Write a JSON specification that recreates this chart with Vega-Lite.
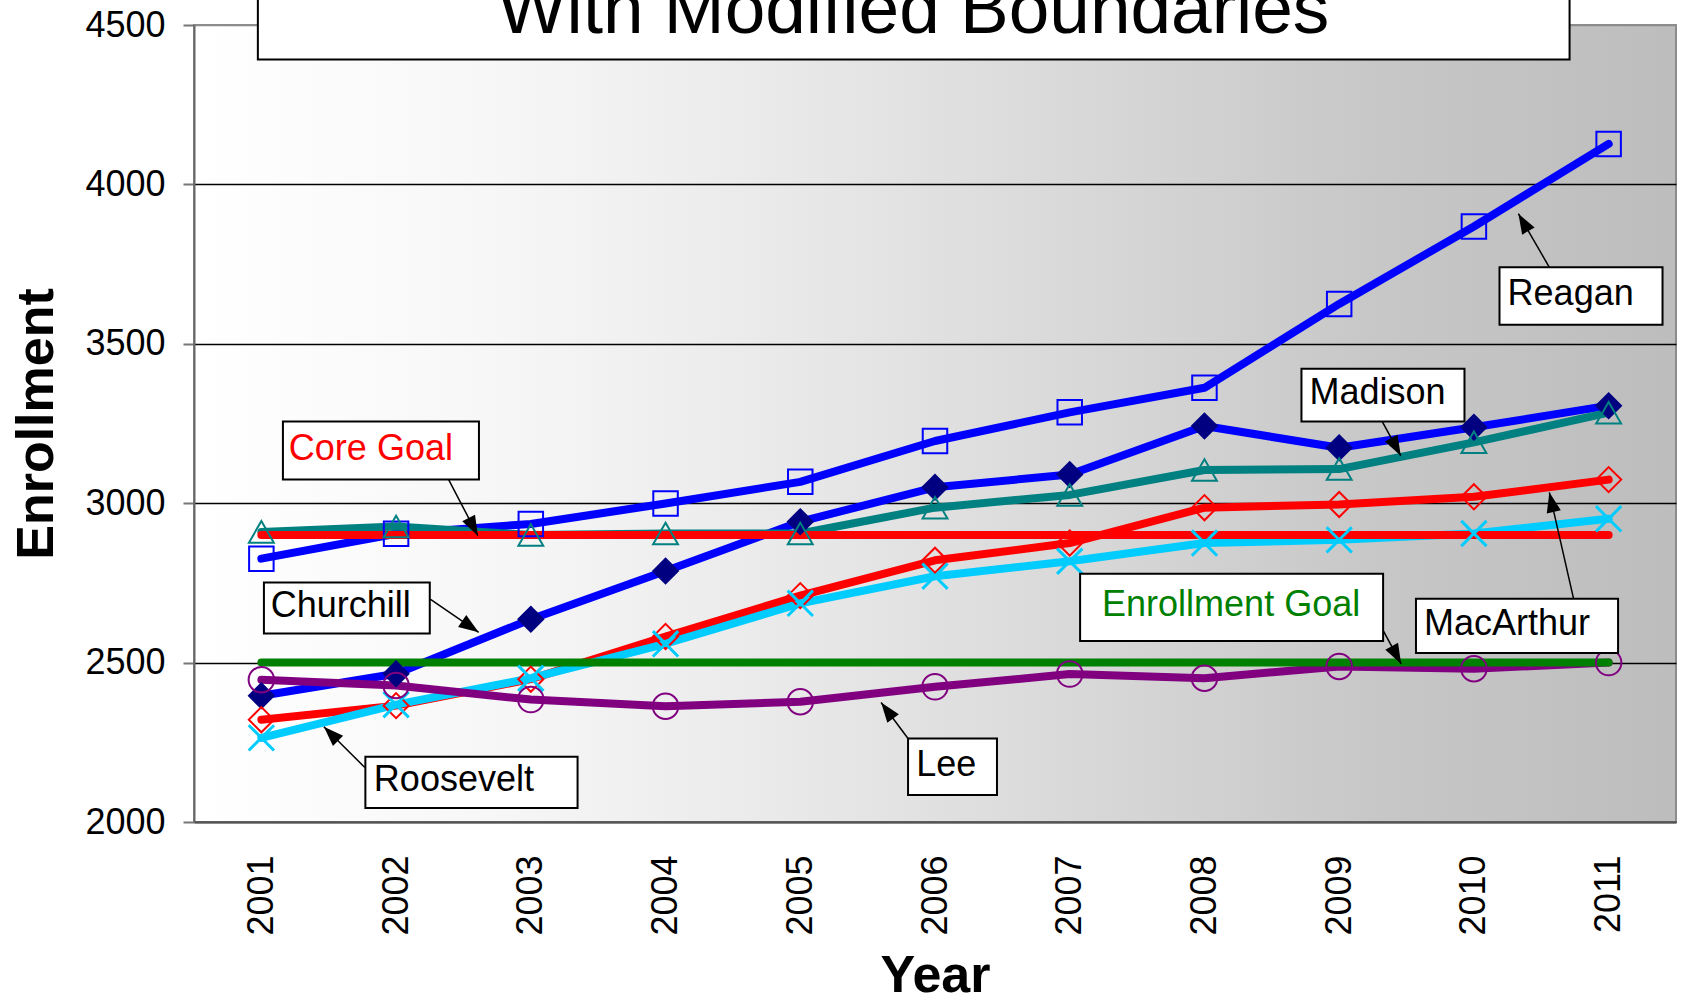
{
  "$schema": "https://vega.github.io/schema/vega-lite/v6.json",
  "width": 1482,
  "height": 797,
  "autosize": {"type": "none"},
  "padding": {"left": 194, "top": 25, "right": 5, "bottom": 182},
  "background": "white",
  "config": {
    "font": "Liberation Sans",
    "view": {
      "fill": {"gradient": "linear", "x1": 0, "y1": 0, "x2": 1, "y2": 0,
        "stops": [
          {"offset": 0, "color": "#ffffff"},
          {"offset": 0.2, "color": "#f7f7f7"},
          {"offset": 0.4, "color": "#e9e9e9"},
          {"offset": 0.6, "color": "#d8d8d8"},
          {"offset": 0.8, "color": "#c7c7c7"},
          {"offset": 1, "color": "#bdbdbd"}
        ]},
      "stroke": "#8c8c8c",
      "strokeWidth": 2
    }
  },
  "datasets": {
    "enr": [
      {"school": "Reagan", "year": 2001, "enrollment": 2826},
      {"school": "Reagan", "year": 2002, "enrollment": 2904},
      {"school": "Reagan", "year": 2003, "enrollment": 2935},
      {"school": "Reagan", "year": 2004, "enrollment": 2999},
      {"school": "Reagan", "year": 2005, "enrollment": 3067},
      {"school": "Reagan", "year": 2006, "enrollment": 3195},
      {"school": "Reagan", "year": 2007, "enrollment": 3285},
      {"school": "Reagan", "year": 2008, "enrollment": 3362},
      {"school": "Reagan", "year": 2009, "enrollment": 3625},
      {"school": "Reagan", "year": 2010, "enrollment": 3868},
      {"school": "Reagan", "year": 2011, "enrollment": 4127},
      {"school": "Churchill", "year": 2001, "enrollment": 2396},
      {"school": "Churchill", "year": 2002, "enrollment": 2465},
      {"school": "Churchill", "year": 2003, "enrollment": 2636},
      {"school": "Churchill", "year": 2004, "enrollment": 2787},
      {"school": "Churchill", "year": 2005, "enrollment": 2942},
      {"school": "Churchill", "year": 2006, "enrollment": 3050},
      {"school": "Churchill", "year": 2007, "enrollment": 3090},
      {"school": "Churchill", "year": 2008, "enrollment": 3242},
      {"school": "Churchill", "year": 2009, "enrollment": 3174},
      {"school": "Churchill", "year": 2010, "enrollment": 3238},
      {"school": "Churchill", "year": 2011, "enrollment": 3306},
      {"school": "Madison", "year": 2001, "enrollment": 2910},
      {"school": "Madison", "year": 2002, "enrollment": 2927},
      {"school": "Madison", "year": 2003, "enrollment": 2900},
      {"school": "Madison", "year": 2004, "enrollment": 2905},
      {"school": "Madison", "year": 2005, "enrollment": 2905},
      {"school": "Madison", "year": 2006, "enrollment": 2986},
      {"school": "Madison", "year": 2007, "enrollment": 3026},
      {"school": "Madison", "year": 2008, "enrollment": 3104},
      {"school": "Madison", "year": 2009, "enrollment": 3107},
      {"school": "Madison", "year": 2010, "enrollment": 3191},
      {"school": "Madison", "year": 2011, "enrollment": 3284},
      {"school": "MacArthur", "year": 2001, "enrollment": 2321},
      {"school": "MacArthur", "year": 2002, "enrollment": 2365},
      {"school": "MacArthur", "year": 2003, "enrollment": 2448},
      {"school": "MacArthur", "year": 2004, "enrollment": 2582},
      {"school": "MacArthur", "year": 2005, "enrollment": 2710},
      {"school": "MacArthur", "year": 2006, "enrollment": 2821},
      {"school": "MacArthur", "year": 2007, "enrollment": 2875},
      {"school": "MacArthur", "year": 2008, "enrollment": 2986},
      {"school": "MacArthur", "year": 2009, "enrollment": 2996},
      {"school": "MacArthur", "year": 2010, "enrollment": 3020},
      {"school": "MacArthur", "year": 2011, "enrollment": 3074},
      {"school": "Roosevelt", "year": 2001, "enrollment": 2264},
      {"school": "Roosevelt", "year": 2002, "enrollment": 2368},
      {"school": "Roosevelt", "year": 2003, "enrollment": 2451},
      {"school": "Roosevelt", "year": 2004, "enrollment": 2559},
      {"school": "Roosevelt", "year": 2005, "enrollment": 2686},
      {"school": "Roosevelt", "year": 2006, "enrollment": 2771},
      {"school": "Roosevelt", "year": 2007, "enrollment": 2818},
      {"school": "Roosevelt", "year": 2008, "enrollment": 2875},
      {"school": "Roosevelt", "year": 2009, "enrollment": 2885},
      {"school": "Roosevelt", "year": 2010, "enrollment": 2905},
      {"school": "Roosevelt", "year": 2011, "enrollment": 2951},
      {"school": "Lee", "year": 2001, "enrollment": 2446},
      {"school": "Lee", "year": 2002, "enrollment": 2428},
      {"school": "Lee", "year": 2003, "enrollment": 2384},
      {"school": "Lee", "year": 2004, "enrollment": 2363},
      {"school": "Lee", "year": 2005, "enrollment": 2377},
      {"school": "Lee", "year": 2006, "enrollment": 2424},
      {"school": "Lee", "year": 2007, "enrollment": 2464},
      {"school": "Lee", "year": 2008, "enrollment": 2451},
      {"school": "Lee", "year": 2009, "enrollment": 2488},
      {"school": "Lee", "year": 2010, "enrollment": 2481},
      {"school": "Lee", "year": 2011, "enrollment": 2500},
      {"school": "Core Goal", "year": 2001, "enrollment": 2900},
      {"school": "Core Goal", "year": 2002, "enrollment": 2900},
      {"school": "Core Goal", "year": 2003, "enrollment": 2900},
      {"school": "Core Goal", "year": 2004, "enrollment": 2900},
      {"school": "Core Goal", "year": 2005, "enrollment": 2900},
      {"school": "Core Goal", "year": 2006, "enrollment": 2900},
      {"school": "Core Goal", "year": 2007, "enrollment": 2900},
      {"school": "Core Goal", "year": 2008, "enrollment": 2900},
      {"school": "Core Goal", "year": 2009, "enrollment": 2900},
      {"school": "Core Goal", "year": 2010, "enrollment": 2900},
      {"school": "Core Goal", "year": 2011, "enrollment": 2900},
      {"school": "Enrollment Goal", "year": 2001, "enrollment": 2500},
      {"school": "Enrollment Goal", "year": 2002, "enrollment": 2500},
      {"school": "Enrollment Goal", "year": 2003, "enrollment": 2500},
      {"school": "Enrollment Goal", "year": 2004, "enrollment": 2500},
      {"school": "Enrollment Goal", "year": 2005, "enrollment": 2500},
      {"school": "Enrollment Goal", "year": 2006, "enrollment": 2500},
      {"school": "Enrollment Goal", "year": 2007, "enrollment": 2500},
      {"school": "Enrollment Goal", "year": 2008, "enrollment": 2500},
      {"school": "Enrollment Goal", "year": 2009, "enrollment": 2500},
      {"school": "Enrollment Goal", "year": 2010, "enrollment": 2500},
      {"school": "Enrollment Goal", "year": 2011, "enrollment": 2500}
    ],
    "boxes": [
      {"label": "Core Goal", "x1": 2001.16, "x2": 2002.615, "y1": 3256, "y2": 3074, "tx": 2001.204, "ax": 2002.39, "ay": 3074, "hx": 2002.607, "hy": 2898},
      {"label": "Churchill", "x1": 2001.019, "x2": 2002.25, "y1": 2751, "y2": 2591, "tx": 2001.07, "ax": 2002.253, "ay": 2699, "hx": 2002.613, "hy": 2595},
      {"label": "Roosevelt", "x1": 2001.772, "x2": 2003.347, "y1": 2205, "y2": 2044, "tx": 2001.835, "ax": 2001.768, "ay": 2171, "hx": 2001.464, "hy": 2299},
      {"label": "Lee", "x1": 2005.80, "x2": 2006.46, "y1": 2262, "y2": 2085, "tx": 2005.86, "ax": 2005.80, "ay": 2262, "hx": 2005.60, "hy": 2375},
      {"label": "Enrollment Goal", "x1": 2007.077, "x2": 2009.326, "y1": 2779, "y2": 2568, "tx": 2007.24, "ax": 2009.32, "ay": 2606, "hx": 2009.46, "hy": 2496},
      {"label": "MacArthur", "x1": 2009.57, "x2": 2011.07, "y1": 2700, "y2": 2530, "tx": 2009.63, "ax": 2010.74, "ay": 2700, "hx": 2010.56, "hy": 3034},
      {"label": "Madison", "x1": 2008.72, "x2": 2009.93, "y1": 3422, "y2": 3256, "tx": 2008.78, "ax": 2009.32, "ay": 3256, "hx": 2009.457, "hy": 3149},
      {"label": "Reagan", "x1": 2010.19, "x2": 2011.40, "y1": 3740, "y2": 3560, "tx": 2010.25, "ax": 2010.56, "ay": 3740, "hx": 2010.33, "hy": 3908}
    ],
    "frame": [
      {"text": "With Modified Boundaries", "x1": 2000.974, "x2": 2010.71, "y1": 4392, "y2": 4700, "tx": 2005.84, "ty": 4474}
    ]
  },
  "layer": [
    {
      "data": {"name": "enr"},
      "transform": [{"filter": "datum.school !== 'Core Goal' && datum.school !== 'Enrollment Goal'"}],
      "mark": {"type": "line", "strokeWidth": 8, "strokeCap": "round", "strokeJoin": "round"},
      "encoding": {
        "x": {"field": "year", "type": "quantitative", "title": "Year",
          "scale": {"domain": [2000.5, 2011.5], "nice": false, "zero": false},
          "axis": {"values": [2001, 2002, 2003, 2004, 2005, 2006, 2007, 2008, 2009, 2010, 2011], "format": "d",
            "labelAngle": 270, "ticks": false, "labelPadding": 33, "labelFontSize": 36, "labelColor": "black",
            "labelFont": "Liberation Sans", "domainColor": "#555555", "domainWidth": 2, "grid": false,
            "titleFontSize": 52, "titleFontWeight": "bold", "titleColor": "black", "titlePadding": 15, "titleFont": "Liberation Sans"}},
        "y": {"field": "enrollment", "type": "quantitative", "title": "Enrollment",
          "scale": {"domain": [2000, 4500], "nice": false, "zero": false},
          "axis": {"values": [2000, 2500, 3000, 3500, 4000, 4500], "format": "d", "labelFontSize": 36, "labelColor": "black",
            "labelFont": "Liberation Sans", "labelPadding": 18, "tickSize": 11, "tickColor": "#777777", "tickWidth": 2,
            "domainColor": "#666666", "domainWidth": 2, "grid": true,
            "gridColor": {"condition": {"test": "datum.value === 4500", "value": "#8c8c8c"}, "value": "#000000"},
            "gridWidth": 1.3,
            "titleFontSize": 52, "titleFontWeight": "bold", "titleColor": "black", "titlePadding": 21, "titleFont": "Liberation Sans"}},
        "color": {"field": "school", "type": "nominal", "legend": null,
          "scale": {"domain": ["Reagan", "Churchill", "Madison", "MacArthur", "Roosevelt", "Lee", "Core Goal", "Enrollment Goal"],
            "range": ["#0000FF", "#0000FF", "#008080", "#FF0000", "#00CCFF", "#800080", "#FF0000", "#008000"]}},
        "detail": {"field": "school"}
      }
    },
    {
      "data": {"name": "enr"},
      "transform": [{"filter": "datum.school === 'Core Goal' || datum.school === 'Enrollment Goal'"}],
      "mark": {"type": "line", "strokeWidth": 8, "strokeCap": "round"},
      "encoding": {
        "x": {"field": "year", "type": "quantitative", "title": "Year"},
        "y": {"field": "enrollment", "type": "quantitative", "title": "Enrollment"},
        "color": {"field": "school", "type": "nominal", "legend": null},
        "detail": {"field": "school"}
      }
    },
    {
      "data": {"name": "enr"},
      "transform": [{"filter": "datum.school !== 'Core Goal' && datum.school !== 'Enrollment Goal'"}],
      "mark": {"type": "point", "filled": false, "opacity": 1},
      "encoding": {
        "x": {"field": "year", "type": "quantitative", "title": "Year"},
        "y": {"field": "enrollment", "type": "quantitative", "title": "Enrollment"},
        "shape": {"field": "school", "type": "nominal", "legend": null,
          "scale": {"domain": ["Reagan", "Churchill", "Madison", "MacArthur", "Roosevelt", "Lee"],
            "range": ["square", "diamond", "triangle-up", "diamond", "M-1,-1L1,1M-1,1L1,-1", "circle"]}},
        "size": {"field": "school", "type": "nominal", "legend": null,
          "scale": {"domain": ["Reagan", "Churchill", "Madison", "MacArthur", "Roosevelt", "Lee"],
            "range": [600, 650, 730, 650, 700, 580]}},
        "stroke": {"field": "school", "type": "nominal", "legend": null,
          "scale": {"domain": ["Reagan", "Churchill", "Madison", "MacArthur", "Roosevelt", "Lee"],
            "range": ["#0000FF", "#000080", "#008080", "#FF0000", "#00CCFF", "#800080"]}},
        "fill": {"condition": {"test": "datum.school === 'Churchill'", "value": "#000080"}, "value": "transparent"},
        "strokeWidth": {"condition": {"test": "datum.school === 'Roosevelt'", "value": 3}, "value": 2}
      }
    },
    {
      "data": {"name": "boxes"},
      "mark": {"type": "rule", "stroke": "black", "strokeWidth": 1.5},
      "encoding": {
        "x": {"field": "ax", "type": "quantitative", "title": "Year"},
        "y": {"field": "ay", "type": "quantitative", "title": "Enrollment"},
        "x2": {"field": "hx"},
        "y2": {"field": "hy"}
      }
    },
    {
      "data": {"name": "boxes"},
      "transform": [{"calculate": "atan2((datum.hx - datum.ax) * 134.7, (datum.hy - datum.ay) * 0.3186) * 180 / PI", "as": "ang"}],
      "mark": {"type": "point", "shape": "M0,0L-0.36,1L0.36,1Z", "size": 1600, "filled": true, "fill": "black", "stroke": null, "opacity": 1},
      "encoding": {
        "x": {"field": "hx", "type": "quantitative", "title": "Year"},
        "y": {"field": "hy", "type": "quantitative", "title": "Enrollment"},
        "angle": {"field": "ang", "type": "quantitative", "scale": null}
      }
    },
    {
      "data": {"name": "boxes"},
      "mark": {"type": "rect", "fill": "white", "stroke": "black", "strokeWidth": 2},
      "encoding": {
        "x": {"field": "x1", "type": "quantitative", "title": "Year"},
        "x2": {"field": "x2"},
        "y": {"field": "y1", "type": "quantitative", "title": "Enrollment"},
        "y2": {"field": "y2"}
      }
    },
    {
      "data": {"name": "boxes"},
      "transform": [{"calculate": "(datum.y1 + datum.y2) / 2", "as": "ym"}],
      "mark": {"type": "text", "align": "left", "baseline": "middle", "fontSize": 36, "font": "Liberation Sans", "dy": -2},
      "encoding": {
        "x": {"field": "tx", "type": "quantitative", "title": "Year"},
        "y": {"field": "ym", "type": "quantitative", "title": "Enrollment"},
        "text": {"field": "label"},
        "fill": {"condition": [
          {"test": "datum.label === 'Core Goal'", "value": "#FF0000"},
          {"test": "datum.label === 'Enrollment Goal'", "value": "#008000"}
        ], "value": "black"}
      }
    },
    {
      "data": {"name": "frame"},
      "mark": {"type": "rect", "fill": "white", "stroke": "black", "strokeWidth": 2},
      "encoding": {
        "x": {"field": "x1", "type": "quantitative", "title": "Year"},
        "x2": {"field": "x2"},
        "y": {"field": "y1", "type": "quantitative", "title": "Enrollment"},
        "y2": {"field": "y2"}
      }
    },
    {
      "data": {"name": "frame"},
      "mark": {"type": "text", "align": "center", "baseline": "alphabetic", "fontSize": 73, "font": "Liberation Sans", "fill": "black"},
      "encoding": {
        "x": {"field": "tx", "type": "quantitative", "title": "Year"},
        "y": {"field": "ty", "type": "quantitative", "title": "Enrollment"},
        "text": {"field": "text"}
      }
    }
  ]
}
